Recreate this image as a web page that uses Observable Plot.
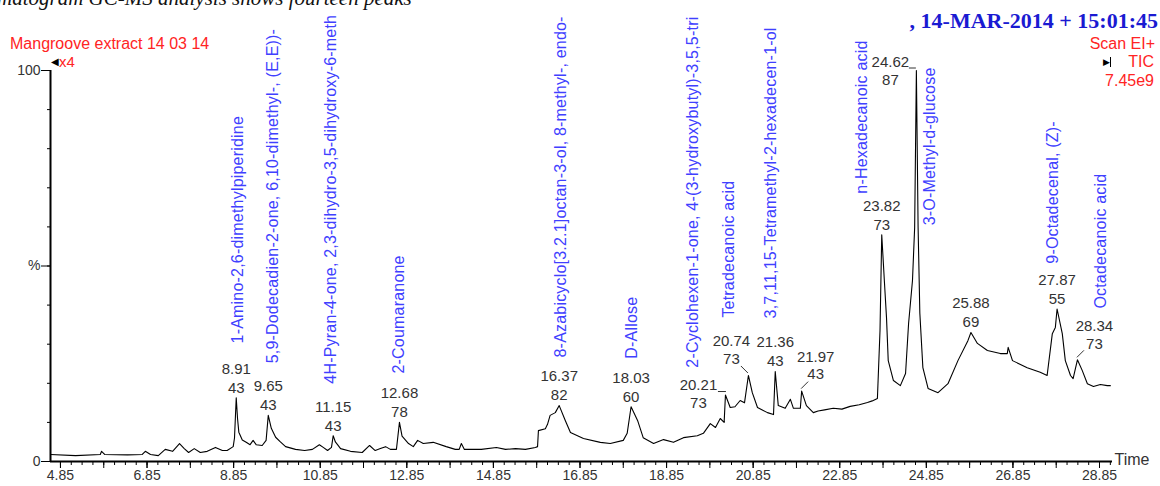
<!DOCTYPE html>
<html><head><meta charset="utf-8">
<script src="https://cdn.jsdelivr.net/npm/d3@7"></script>
<script src="https://cdn.jsdelivr.net/npm/@observablehq/plot@0.6"></script>
<style>
body{margin:0;background:#fff;}
#wrap{position:relative;width:1160px;height:486px;overflow:hidden;font-family:"Liberation Sans",Arial,sans-serif;background:#fff;}
#wrap svg{position:absolute;left:0;top:0;}
.ov{position:absolute;white-space:nowrap;line-height:1;}
.red{color:#ff2424;}
</style></head><body>
<div id="wrap">
  <div id="chart"></div>
  <div class="ov" style="left:-3px;top:-12px;font-family:'Liberation Serif',serif;font-style:italic;font-size:21px;color:#111;">matogram GC-MS analysis shows fourteen peaks</div>
  <div class="ov red" style="left:10px;top:36px;font-size:16px;">Mangroove extract 14 03 14</div>
  <div class="ov" style="left:51px;top:54px;font-size:15px;"><span style="font-size:10px;color:#000;vertical-align:2px;">◀</span><span class="red">x4</span></div>
  <div class="ov" style="right:2px;top:10px;font-family:'Liberation Serif',serif;font-weight:bold;font-size:22px;color:#1a1ad2;">,  14-MAR-2014 + 15:01:45</div>
  <div class="ov red" style="right:5px;top:36px;font-size:16px;">Scan EI+</div>
  <div class="ov" style="right:6px;top:54px;font-size:16px;"><span style="font-size:9px;color:#000;vertical-align:2px;border-right:1.5px solid #000;padding-right:0;margin-right:17px;">▶</span><span class="red">TIC</span></div>
  <div class="ov red" style="right:6px;top:73px;font-size:16px;">7.45e9</div>
</div>
<script>
// ---- trace (retention time, min) and relative intensity (%)
const traceTime = [4.62,5.20,5.77,5.80,5.87,6.40,6.74,6.81,6.93,7.11,7.27,7.44,7.60,7.71,7.81,7.94,8.08,8.24,8.43,8.59,8.70,8.84,8.87,8.91,8.94,8.97,9.05,9.14,9.23,9.30,9.37,9.51,9.60,9.65,9.72,9.82,9.93,10.05,10.28,10.49,10.67,10.83,10.92,11.02,11.11,11.15,11.20,11.25,11.32,11.55,11.82,11.99,12.12,12.24,12.36,12.47,12.61,12.68,12.74,12.89,13.00,13.10,13.23,13.46,13.76,13.97,14.06,14.11,14.18,14.57,14.92,15.13,15.36,15.59,15.82,15.87,15.89,16.05,16.10,16.16,16.28,16.37,16.51,16.63,16.93,17.32,17.55,17.85,17.94,18.03,18.18,18.31,18.55,18.78,19.01,19.24,19.56,19.70,19.86,19.98,20.09,20.18,20.21,20.32,20.43,20.55,20.65,20.74,20.83,20.95,21.18,21.32,21.36,21.43,21.59,21.71,21.78,21.94,21.97,22.08,22.24,22.35,22.50,22.70,22.90,23.09,23.30,23.49,23.60,23.72,23.78,23.82,23.88,23.93,23.97,24.09,24.25,24.37,24.44,24.53,24.58,24.62,24.66,24.70,24.77,24.89,25.12,25.35,25.58,25.81,25.88,26.03,26.26,26.56,26.72,26.74,26.84,27.18,27.48,27.64,27.76,27.83,27.87,27.99,28.06,28.18,28.24,28.34,28.45,28.57,28.71,28.87,29.03,29.10];
const traceIntensity = [1.8,1.5,1.8,2.6,1.8,1.7,1.8,2.6,1.8,1.5,3.1,2.6,4.6,3.3,2.3,3.3,2.3,2.6,3.6,2.8,2.8,3.8,6.0,16.3,11.0,7.5,5.5,4.9,4.3,5.4,4.3,4.1,5.4,11.8,8.5,6.2,5.0,3.8,3.1,2.8,3.1,4.3,3.6,2.8,3.6,6.6,5.0,4.3,3.3,2.6,2.3,4.1,2.8,3.3,3.8,3.1,3.1,10.0,6.5,4.6,3.8,5.4,4.6,4.9,3.8,3.1,3.1,4.6,3.1,3.1,3.6,3.1,3.3,3.1,3.6,3.8,7.9,8.4,9.5,11.8,12.5,14.3,10.5,7.4,5.9,4.9,4.6,5.4,7.2,14.0,10.5,6.1,4.6,5.6,4.9,6.1,6.6,7.2,9.7,8.7,11.0,10.0,17.0,13.8,14.0,15.6,15.0,22.0,17.6,13.8,12.5,12.0,23.0,14.3,13.6,15.9,13.6,13.6,18.0,14.3,12.5,12.9,13.2,13.6,13.4,14.1,14.5,15.1,15.5,16.1,33.5,58.0,46.3,36.8,25.8,20.7,19.4,22.5,35.3,46.3,59.8,100,59.8,37.9,24.0,18.7,17.6,19.9,25.8,30.9,33.0,30.2,28.4,27.6,27.6,29.2,25.8,24.0,22.8,22.0,32.7,34.3,39.0,32.7,25.8,22.0,21.2,26.0,23.3,19.9,19.2,19.7,19.4,19.4];

// ---- labelled peaks: retention time and base-peak m/z
const peakTime = [8.91,9.65,11.15,12.68,16.37,18.03,20.21,20.74,21.36,21.97,23.82,24.62,25.88,27.87,28.34];
const peakMass = [43,43,43,78,82,60,73,73,43,43,73,87,69,55,73];

// ---- identified compounds (label anchor in time / intensity units)
const compoundNames = [
  "1-Amino-2,6-dimethylpiperidine",
  "5,9-Dodecadien-2-one, 6,10-dimethyl-, (E,E))-",
  "4H-Pyran-4-one, 2,3-dihydro-3,5-dihydroxy-6-meth",
  "2-Coumaranone",
  "8-Azabicyclo[3.2.1]octan-3-ol, 8-methyl-, endo-",
  "D-Allose",
  "2-Cyclohexen-1-one, 4-(3-hydroxybutyl)-3,5,5-tri",
  "Tetradecanoic acid",
  "3,7,11,15-Tetramethyl-2-hexadecen-1-ol",
  "n-Hexadecanoic acid",
  "3-O-Methyl-d-glucose",
  "9-Octadecenal, (Z)-",
  "Octadecanoic acid"
];
const compoundTime = [8.94,9.75,11.09,12.66,16.40,18.06,19.45,20.28,21.25,23.37,24.94,27.78,28.87];
const compoundLevel = [30.2,25.1,19.9,22.5,26.6,26.3,24.0,36.8,36.6,68.5,60.4,50.6,39.1];

// ---- axis ticks
const xTickLabels = [4.85,6.85,8.85,10.85,12.85,14.85,16.85,18.85,20.85,22.85,24.85,26.85,28.85];
const yTickLabels = [0,50,100];

// ---- build tables
const trace = traceTime.map((t,i)=>({t, v: traceIntensity[i]}));
const peaks = peakTime.map((t,i)=>({t, v: traceIntensity[traceTime.indexOf(t)], time: t.toFixed(2), mass: String(peakMass[i])}));
const compounds = compoundNames.map((name,i)=>({name, t: compoundTime[i], v: compoundLevel[i]}));

// label layout (pixel offsets) for peaks whose labels are moved aside with a leader
const labelLayout = {
  "20.21": {dx:-27, dyT:-10, dyM:8,   line:[[-7,-3],[1,-3]]},
  "20.74": {dx:-17, dyT:-34, dyM:-16, line:[[-7,-9],[0,-2]]},
  "21.97": {dx:14,  dyT:-34, dyM:-17, line:[[0,-2],[7,-9]]},
  "24.62": {dx:-26, dyT:-8,  dyM:10,  line:[[-7,-2],[0,-2]]},
  "28.34": {dx:17,  dyT:-34, dyM:-16, line:[[0,-2],[7,-9]]}
};
const defaultLayout = {dx:0, dyT:-29, dyM:-10};

const BLUE = "#4040ff", NUM = "#333";
const minorX = d3.range(0, 100).map(k => +(4.85 + k*0.25).toFixed(2)).filter(d => d <= 29.1);
const majorX = d3.range(0, 25).map(k => +(4.85 + k).toFixed(2));

const peakLabelMarks = peaks.flatMap(p => {
  const L = labelLayout[p.time] || defaultLayout;
  return [
    Plot.text([p], {x:"t", y:"v", text:"time", dx:L.dx, dy:L.dyT, fill:NUM, fontSize:15}),
    Plot.text([p], {x:"t", y:"v", text:"mass", dx:L.dx, dy:L.dyM, fill:NUM, fontSize:15})
  ];
});

function leaders(index, scales) {
  const g = d3.create("svg:g").attr("stroke", NUM).attr("stroke-width", 1).attr("fill", "none");
  for (const p of peaks) {
    const L = labelLayout[p.time];
    if (!L) continue;
    const x = scales.x(p.t), y = scales.y(p.v);
    g.append("line").attr("x1", x+L.line[0][0]).attr("y1", y+L.line[0][1])
      .attr("x2", x+L.line[1][0]).attr("y2", y+L.line[1][1]);
  }
  return g.node();
}

const chart = Plot.plot({
  width: 1160, height: 486,
  marginLeft: 50, marginRight: 48, marginTop: 70, marginBottom: 25,
  style: {fontFamily: "'Liberation Sans', Arial, sans-serif", fontSize: "14px", background: "transparent", overflow: "visible"},
  x: {domain: [4.62, 29.15]},
  y: {domain: [0, 100]},
  marks: [
    Plot.axisX({ticks: minorX, tickSize: 4, text: null, label: null, stroke: "#000"}),
    Plot.axisX({ticks: majorX, tickSize: 7, text: null, label: null, stroke: "#000"}),
    Plot.axisX({ticks: xTickLabels, tickSize: 7, tickPadding: 2, tickFormat: d => d.toFixed(2), label: null, fill: NUM, stroke: "#000", fontSize: 14}),
    Plot.axisY({ticks: d3.range(0, 101, 10), tickSize: 3, text: null, label: null, stroke: "#000"}),
    Plot.axisY({ticks: yTickLabels, tickSize: 9, tickPadding: 1, tickFormat: d => d === 50 ? "%" : String(d), label: null, fill: NUM, stroke: "#000", fontSize: 14}),
    Plot.ruleX([4.62], {stroke: "#000", strokeWidth: 2}),
    Plot.ruleY([0], {stroke: "#000", strokeWidth: 2}),
    Plot.line(trace, {x: "t", y: "v", stroke: "#000", strokeWidth: 1.1}),
    Plot.text(compounds, {x: "t", y: "v", text: "name", rotate: -90, textAnchor: "start", fill: BLUE, fontSize: 16}),
    ...peakLabelMarks,
    leaders,
    Plot.text(["Time"], {frameAnchor: "bottom-right", textAnchor: "start", dx: 2, dy: 3, fill: NUM, fontSize: 16})
  ]
});
d3.select(chart).selectAll(`g[fill="${BLUE}"] text`).attr("letter-spacing", "0.2px");
document.getElementById("chart").appendChild(chart);
</script>
</body></html>
